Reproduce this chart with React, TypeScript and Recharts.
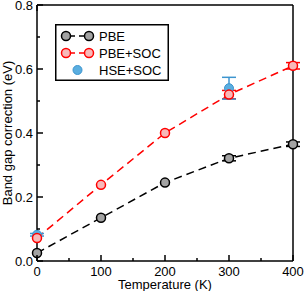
import React from "react";
import {
  ComposedChart,
  Line,
  Scatter,
  XAxis,
  YAxis,
  ErrorBar,
  Legend,
} from "recharts";

// temperatures in K, band gap corrections in eV
const temperatures = [0, 100, 200, 300, 400];
const pbe = [0.025, 0.135, 0.245, 0.321, 0.365];
const pbeErr = [0, 0, 0, 0.008, 0.007];
const pbeSoc = [0.072, 0.238, 0.4, 0.52, 0.61];
const pbeSocErr = [0, 0, 0, 0.013, 0.01];
const hseTemps = [0, 300];
const hseSoc = [0.082, 0.54];
const hseErr = [0.004, 0.034];

const xTicks = [0, 50, 100, 150, 200, 250, 300, 350, 400];
const xLabels = [0, 100, 200, 300, 400];
const yTicks = [0, 0.1, 0.2, 0.3, 0.4, 0.5, 0.6, 0.7, 0.8];
const yLabels = [0, 0.2, 0.4, 0.6, 0.8];

const rows = temperatures.map((t, i) => ({
  t,
  pbe: pbe[i],
  pbeErr: pbeErr[i],
  pbeSoc: pbeSoc[i],
  pbeSocErr: pbeSocErr[i],
}));
const hseRows = hseTemps.map((t, i) => ({ t, hse: hseSoc[i], hseErr: hseErr[i] }));

const FONT = "'Liberation Sans', Arial, Helvetica, sans-serif";
const isMajor = (v: number, labels: number[]) =>
  labels.some((l) => Math.abs(l - v) < 1e-6);

const BottomTick = ({ x, y, payload }: any) => {
  const major = isMajor(payload.value, xLabels);
  return (
    <g>
      <line x1={x} y1={y} x2={x} y2={y - (major ? 6 : 3)} stroke="#000" strokeWidth={1.5} />
      {major && (
        <text x={x} y={y + 14.5} textAnchor="middle" fontSize={13} fontFamily={FONT} fill="#000">
          {payload.value}
        </text>
      )}
    </g>
  );
};

const TopTick = ({ x, y, payload }: any) => {
  const major = isMajor(payload.value, xLabels);
  return <line x1={x} y1={y} x2={x} y2={y + (major ? 6 : 3)} stroke="#000" strokeWidth={1.5} />;
};

const LeftTick = ({ x, y, payload }: any) => {
  const major = isMajor(payload.value, yLabels);
  return (
    <g>
      <line x1={x} y1={y} x2={x + (major ? 6 : 3)} y2={y} stroke="#000" strokeWidth={1.5} />
      {major && (
        <text x={x - 4} y={y + 4.6} textAnchor="end" fontSize={13} fontFamily={FONT} fill="#000">
          {payload.value.toFixed(1)}
        </text>
      )}
    </g>
  );
};

const RightTick = ({ x, y, payload }: any) => {
  const major = isMajor(payload.value, yLabels);
  return <line x1={x} y1={y} x2={x - (major ? 6 : 3)} y2={y} stroke="#000" strokeWidth={1.5} />;
};

const legendItems = [
  { name: "PBE", fill: "#a3a3a3", stroke: "#000", line: true },
  { name: "PBE+SOC", fill: "#f7b9b9", stroke: "#ff0000", line: true },
  { name: "HSE+SOC", fill: "#5aaee0", stroke: "#3d95cf", line: false },
];

const LegendBox = () => (
  <svg width={114} height={57} style={{ display: "block" }}>
    <rect x={0.75} y={0.75} width={112.5} height={55.5} fill="#fff" stroke="#000" strokeWidth={1.5} />
    {legendItems.map((it, i) => {
      const cy = 12 + i * 17;
      return (
        <g key={it.name}>
          {it.line ? (
            <>
              <line x1={11} y1={cy} x2={20} y2={cy} stroke={it.stroke} strokeWidth={1.5} />
              <line x1={24} y1={cy} x2={34} y2={cy} stroke={it.stroke} strokeWidth={1.5} />
              <circle cx={11} cy={cy} r={4.5} fill={it.fill} stroke={it.stroke} strokeWidth={1.5} />
              <circle cx={34} cy={cy} r={4.5} fill={it.fill} stroke={it.stroke} strokeWidth={1.5} />
            </>
          ) : (
            <circle cx={22.5} cy={cy} r={4.5} fill={it.fill} stroke={it.stroke} strokeWidth={1} />
          )}
          <text x={44} y={cy + 4.6} fontSize={13} fontFamily={FONT} fill="#000">
            {it.name}
          </text>
        </g>
      );
    })}
  </svg>
);

const HseDot = (p: any) => (
  <circle cx={p.cx} cy={p.cy} r={4.5} fill="#5aaee0" stroke="#3d95cf" strokeWidth={1} />
);

export default function App() {
  return (
    <div style={{ position: "absolute", left: 0, top: 0, width: 304, height: 291, background: "#fff" }}>
      <ComposedChart
        width={304}
        height={291}
        data={rows}
        margin={{ top: 0, right: 0, bottom: 0, left: 0 }}
        style={{ fontFamily: FONT }}
      >
        <XAxis
          dataKey="t"
          type="number"
          domain={[0, 400]}
          ticks={xTicks}
          interval={0}
          height={30}
          tickSize={0}
          tickMargin={0}
          tickLine={false}
          tick={<BottomTick />}
          axisLine={{ stroke: "#000", strokeWidth: 1.5 }}
          label={{
            value: "Temperature (K)",
            position: "insideBottom",
            offset: 2,
            fontSize: 13,
            fill: "#000",
            fontFamily: FONT,
          }}
        />
        <XAxis
          xAxisId="top"
          orientation="top"
          type="number"
          domain={[0, 400]}
          ticks={xTicks}
          interval={0}
          height={5}
          tickSize={0}
          tickMargin={0}
          tickLine={false}
          tick={<TopTick />}
          axisLine={{ stroke: "#000", strokeWidth: 1.5 }}
        />
        <YAxis
          type="number"
          domain={[0, 0.8]}
          ticks={yTicks}
          interval={0}
          width={37}
          tickSize={0}
          tickMargin={0}
          tickLine={false}
          tick={<LeftTick />}
          axisLine={{ stroke: "#000", strokeWidth: 1.5 }}
          label={{
            value: "Band gap correction (eV)",
            angle: -90,
            position: "insideLeft",
            offset: 7,
            fontSize: 13,
            fill: "#000",
            fontFamily: FONT,
            style: { textAnchor: "middle" },
          }}
        />
        <YAxis
          yAxisId="right"
          orientation="right"
          type="number"
          domain={[0, 0.8]}
          ticks={yTicks}
          interval={0}
          width={11}
          tickSize={0}
          tickMargin={0}
          tickLine={false}
          tick={<RightTick />}
          axisLine={{ stroke: "#000", strokeWidth: 1.5 }}
        />
        <Legend
          layout="vertical"
          align="center"
          verticalAlign="middle"
          content={() => <LegendBox />}
          wrapperStyle={{ position: "absolute", left: 55, top: 24, width: 114, height: 57 }}
        />
        <Line
          dataKey="pbe"
          name="PBE"
          stroke="#000"
          strokeWidth={1.5}
          strokeDasharray="8 5"
          isAnimationActive={false}
          dot={{ r: 4.5, fill: "#a3a3a3", stroke: "#000", strokeWidth: 1.5, strokeDasharray: "none" }}
        >
          <ErrorBar dataKey="pbeErr" direction="y" width={7} stroke="#000" strokeWidth={1.5} />
        </Line>
        <Line
          dataKey="pbeSoc"
          name="PBE+SOC"
          stroke="#ff0000"
          strokeWidth={1.5}
          strokeDasharray="8 5"
          isAnimationActive={false}
          dot={{ r: 4.5, fill: "#f7b9b9", stroke: "#ff0000", strokeWidth: 1.5, strokeDasharray: "none" }}
        >
          <ErrorBar dataKey="pbeSocErr" direction="y" width={7} stroke="#ff0000" strokeWidth={1.5} />
        </Line>
        <Scatter
          data={hseRows}
          dataKey="hse"
          name="HSE+SOC"
          fill="#5aaee0"
          shape={<HseDot />}
          isAnimationActive={false}
        >
          <ErrorBar dataKey="hseErr" direction="y" width={7} stroke="#3d95cf" strokeWidth={1.5} />
        </Scatter>
      </ComposedChart>
    </div>
  );
}
